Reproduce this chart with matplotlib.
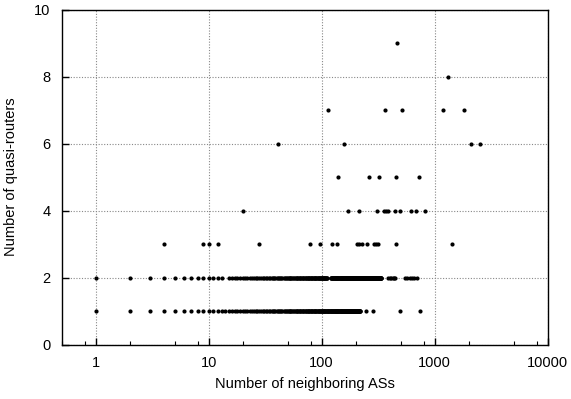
import matplotlib
matplotlib.use("Agg")
import matplotlib.pyplot as plt
from matplotlib.ticker import LogLocator, FixedLocator, NullFormatter

plt.rcParams['font.family'] = ['Liberation Sans', 'DejaVu Sans']

# number of neighboring ASs for each quasi-router count
# dense rows: every integer in the given (first, last) spans is present
y1_spans = [(1, 219)]
y1_extra = [248, 286, 491, 739]
y2_spans = [(1, 13), (15, 112), (120, 335)]
y2_extra = [390, 400, 412, 425, 437, 448, 548, 575, 600, 630, 660, 700]
y3_x = [4, 9, 10, 12, 28, 79, 97, 123, 138, 205, 215, 228, 252, 290, 305, 315, 458, 1411]
y4_x = [20, 171, 214, 312, 355, 370, 383, 443, 490, 615, 688, 818]
y5_x = [139, 264, 321, 458, 728]
y6_x = [41, 157, 2096, 2500]
y7_x = [113, 366, 514, 1197, 1816]
y8_x = [1327]
y9_x = [467]

rows = {
    1: [v for a, b in y1_spans for v in range(a, b + 1)] + y1_extra,
    2: [v for a, b in y2_spans for v in range(a, b + 1)] + y2_extra,
    3: y3_x, 4: y4_x, 5: y5_x, 6: y6_x, 7: y7_x, 8: y8_x, 9: y9_x,
}

xs, ys = [], []
for yv, xl in rows.items():
    xs += xl
    ys += [yv] * len(xl)

fig = plt.figure(figsize=(5.71, 3.99), dpi=100)
ax = fig.add_axes([0.108, 0.136, 0.851, 0.840])
ax.plot(xs, ys, 'o', color='black', markersize=3, markeredgewidth=0)

ax.set_xscale('log')
ax.set_xlim(0.5, 10000)
ax.set_ylim(0, 10)
ax.xaxis.set_major_locator(FixedLocator([1, 10, 100, 1000, 10000]))
ax.set_xticklabels(['1', '10', '100', '1000', '10000'])
ax.xaxis.set_minor_locator(LogLocator(base=10, subs=(2, 5, 8), numticks=20))
ax.xaxis.set_minor_formatter(NullFormatter())
ax.set_yticks([0, 2, 4, 6, 8, 10])

ax.grid(True, which='major', linestyle=(0, (1, 1.5)), color='#888888', linewidth=0.8)
ax.tick_params(which='major', direction='in', length=5, width=1, labelsize=10.5, pad=8)
ax.tick_params(which='minor', direction='in', length=3, width=0.8)
for s in ax.spines.values():
    s.set_linewidth(1.0)

ax.set_xlabel('Number of neighboring ASs', fontsize=10.5, labelpad=5)
ax.set_ylabel('Number of quasi-routers', fontsize=10.5, labelpad=12)

fig.savefig('out.png', dpi=100)
